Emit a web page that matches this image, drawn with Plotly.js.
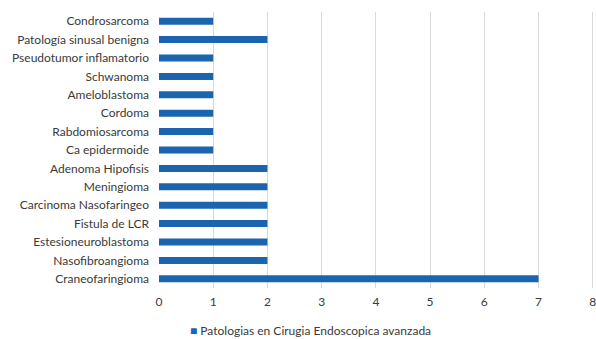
<!DOCTYPE html>
<html>
<head>
<meta charset="utf-8">
<script src="https://cdn.plot.ly/plotly-3.0.1.min.js"></script>
<style>
  html, body { margin: 0; padding: 0; background: #fff; }
  #chart { width: 596px; height: 339px; }
</style>
</head>
<body>
<div id="chart"></div>
<script>
// Pathologies treated, listed bottom to top
const categories = [
  "Craneofaringioma",
  "Nasofibroangioma",
  "Estesioneuroblastoma",
  "Fistula de LCR",
  "Carcinoma Nasofaringeo",
  "Meningioma",
  "Adenoma Hipofisis",
  "Ca epidermoide",
  "Rabdomiosarcoma",
  "Cordoma",
  "Ameloblastoma",
  "Schwanoma",
  "Pseudotumor inflamatorio",
  "Patología sinusal benigna",
  "Condrosarcoma"
];
const counts = [7, 2, 2, 2, 2, 2, 2, 1, 1, 1, 1, 1, 1, 2, 1];
const seriesName = "Patologias en Cirugia Endoscopica avanzada";
const xTicks = [0, 1, 2, 3, 4, 5, 6, 7, 8];

const barColor = "#1b64b0";
const textColor = "#3a3a3a";

const trace = {
  type: "bar",
  orientation: "h",
  y: categories,
  x: counts,
  name: seriesName,
  marker: { color: barColor },
  showlegend: false,
  hoverinfo: "x+y"
};

const layout = {
  width: 596,
  height: 339,
  margin: { l: 159, r: 0, t: 12, b: 51 },
  paper_bgcolor: "#ffffff",
  plot_bgcolor: "#ffffff",
  font: { family: "Lato, 'Open Sans', sans-serif", size: 12, color: textColor },
  bargap: 0.62,
  xaxis: {
    // a little headroom past 8 so the last gridline is kept
    range: [0, 8.06],
    tickvals: xTicks,
    ticktext: xTicks.map(String),
    ticklabeloverflow: "allow",
    showgrid: true,
    gridcolor: "#d9d9d9",
    gridwidth: 1,
    zeroline: false,
    showline: false,
    ticks: "",
    ticklabelstandoff: 5,
    tickfont: { size: 12, color: textColor },
    fixedrange: true
  },
  yaxis: {
    type: "category",
    categoryorder: "array",
    categoryarray: categories,
    showgrid: false,
    zeroline: false,
    showline: false,
    ticks: "",
    ticklabelstandoff: 9,
    tickfont: { size: 12, color: textColor },
    automargin: false,
    fixedrange: true
  },
  showlegend: false,
  // Series key below the axis: small coloured square followed by the series name
  annotations: [{
    xref: "paper",
    yref: "paper",
    x: 0.346,
    y: -0.155,
    xanchor: "center",
    yanchor: "middle",
    showarrow: false,
    text: '<span style="color:' + barColor + ';font-size:12px">■</span> ' + seriesName,
    font: { size: 12, color: textColor }
  }]
};

Plotly.newPlot("chart", [trace], layout, { displayModeBar: false, staticPlot: true });
</script>
</body>
</html>
